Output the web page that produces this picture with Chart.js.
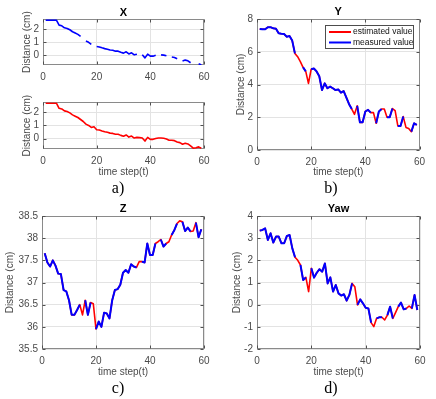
<!DOCTYPE html>
<html><head><meta charset="utf-8">
<script src="https://cdn.jsdelivr.net/npm/chart.js@4/dist/chart.umd.min.js"></script>
<style>
html,body{margin:0;padding:0;background:#fff;width:436px;height:399px;overflow:hidden;position:relative}
canvas{position:absolute}
.lbl{position:absolute;width:40px;text-align:center;font:16px 'Liberation Serif','Times New Roman',serif;line-height:16px;color:#000}
</style></head><body>
<canvas id="cA1" width="218" height="86" style="left:0;top:0"></canvas>
<canvas id="cA2" width="218" height="113" style="left:0;top:86px"></canvas>
<canvas id="cB" width="218" height="199" style="left:218px;top:0"></canvas>
<canvas id="cC" width="218" height="200" style="left:0;top:199px"></canvas>
<canvas id="cD" width="218" height="200" style="left:218px;top:199px"></canvas>
<div class="lbl" style="left:98px;top:180px">a)</div>
<div class="lbl" style="left:311px;top:180px">b)</div>
<div class="lbl" style="left:98px;top:380px">c)</div>
<div class="lbl" style="left:311px;top:380px">d)</div>
<script>
const timeSteps = [1,2,3,4,5,6,7,8,9,10,11,12,13,14,15,16,17,18,19,20,21,22,23,24,25,26,27,28,29,30,31,32,33,34,35,36,37,38,39,40,41,42,43,44,45,46,47,48,49,50,51,52,53,54,55,56,57,58,59];
const xAxisTicks = [0,20,40,60];

const xEstimated = [2.68,2.68,2.68,2.68,2.68,2.3,2.25,2.1,2.05,1.95,1.8,1.7,1.6,1.45,1.3,1.1,1.0,0.85,0.9,0.68,0.65,0.58,0.52,0.48,0.42,0.4,0.33,0.33,0.25,0.18,0.28,0.12,0.2,0.05,0.1,0.08,0.05,-0.18,0.1,-0.05,-0.05,0.02,0.05,0.05,0.03,-0.02,-0.12,-0.12,-0.15,-0.25,-0.3,-0.42,-0.35,-0.4,-0.55,-0.72,-0.68,-0.62,-0.72];
const xMeasured  = [2.68,2.68,2.68,2.68,2.68,2.3,2.25,2.1,2.05,1.95,1.8,1.7,1.6,1.45,null,1.1,1.0,0.85,null,0.68,0.65,0.58,0.52,0.48,0.42,0.4,0.33,0.33,0.25,0.18,0.28,0.12,0.2,0.05,0.1,null,0.05,-0.18,0.1,-0.05,-0.05,0.02,null,0.05,0.03,-0.02,null,-0.12,-0.15,-0.25,null,-0.42,-0.35,-0.4,-0.55,null,null,-0.62,-0.72];

const yEstimated = [7.39,7.37,7.37,7.5,7.5,7.43,7.41,7.13,7.1,7.08,6.92,6.96,6.68,5.9,5.7,5.4,5.05,4.8,4.07,4.93,4.98,4.8,4.5,3.66,4.07,3.77,3.87,3.77,3.66,3.7,3.5,3.6,3.2,2.8,2.5,2.18,2.7,1.69,1.69,2.35,2.45,2.28,2.28,1.63,2.35,2.5,2.5,2.0,2.0,2.53,2.4,1.47,1.47,2.04,1.38,1.32,1.12,1.63,1.53];
const yMeasured  = [7.39,7.37,7.37,7.5,7.5,7.43,7.41,7.13,7.1,7.08,6.92,6.96,6.68,5.9,null,null,5.05,4.8,null,4.93,4.98,4.8,4.5,3.66,4.07,3.77,3.87,3.77,3.66,3.7,3.5,3.6,3.2,2.8,2.5,null,2.7,1.69,1.69,2.35,2.45,2.28,null,1.63,2.35,2.5,null,2.0,2.0,2.53,null,1.47,1.47,2.04,null,null,1.12,1.63,1.53];

const zEstimated = [37.66,37.45,37.36,37.5,37.38,37.2,37.19,36.83,36.8,36.6,36.27,36.27,36.38,36.5,36.27,36.6,36.27,36.55,36.52,35.95,36.12,36.0,36.32,36.3,36.19,36.6,36.83,36.85,36.95,37.22,37.28,37.22,37.41,37.36,37.34,37.47,37.47,37.45,37.88,37.62,37.62,37.88,37.92,37.97,37.81,37.88,37.92,38.07,38.18,38.33,38.39,38.37,38.16,38.24,38.15,38.16,38.35,38.02,38.2];
const zMeasured  = [37.66,37.45,37.36,37.5,37.38,37.2,37.19,36.83,36.8,36.6,36.27,36.27,36.38,36.5,null,36.6,36.27,36.55,null,35.95,36.12,36.0,36.32,36.3,36.19,36.6,36.83,36.85,36.95,37.22,37.28,37.22,37.41,37.36,37.34,null,37.47,37.45,37.88,37.62,37.62,37.88,null,37.97,37.81,37.88,null,38.07,38.18,38.33,null,38.37,38.16,38.24,38.15,null,38.35,38.02,38.2];

const yawEstimated = [3.34,3.37,3.44,2.92,3.22,2.8,3.07,3.07,2.77,2.77,3.1,3.14,2.54,2.14,2.0,1.79,1.11,1.23,0.59,1.64,1.22,1.44,1.6,1.49,1.86,0.96,1.23,0.59,0.89,0.51,0.41,0.47,0.18,0.44,0.96,0.81,-0.01,0.24,0.06,-0.14,-0.17,-0.81,-0.99,-0.62,-0.57,-0.57,-0.69,-0.47,-0.09,-0.62,-0.36,-0.09,0.09,-0.21,-0.17,-0.06,-0.17,0.44,-0.24];
const yawMeasured  = [3.34,3.37,3.44,2.92,3.22,2.8,3.07,3.07,2.77,2.77,3.1,3.14,2.54,2.14,null,1.79,1.11,1.23,null,1.64,1.22,1.44,1.6,1.49,1.86,0.96,1.23,0.59,0.89,0.51,0.41,0.47,0.18,0.44,0.96,null,-0.01,0.24,0.06,-0.14,-0.17,-0.81,null,-0.62,-0.57,-0.57,null,-0.47,-0.09,-0.62,null,-0.09,0.09,-0.21,-0.17,null,-0.17,0.44,-0.24];

const xPanelTicks = [0,1,2];
const yPanelTicks = [0,2,4,6,8];
const zPanelTicks = [35.5,36,36.5,37,37.5,38,38.5];
const yawPanelTicks = [-2,-1,0,1,2,3,4];

const seriesLabels = ['estimated value','measured value'];
const panelTitles = ['X','Y','Z','Yaw'];
const yAxisTitle = 'Distance (cm)';
const xAxisTitle = 'time step(t)';

const RED = '#ff0000', BLUE = '#0000ff';
const SANS = "'Liberation Sans', Arial, Helvetica, sans-serif";
const TEXT_GRAY = '#4a4a4a';

function pts(vals){ return timeSteps.map((t,i)=>({x:t, y:vals[i]})); }

const framePlugin = {
  id:'frame',
  beforeDatasetsDraw(chart){
    const {ctx, chartArea:a, scales} = chart;
    ctx.save();
    ctx.strokeStyle = '#8a8a8a'; ctx.lineWidth = 1;
    const L=Math.round(a.left)+0.5, R=Math.round(a.right)-0.5, T=Math.round(a.top)+0.5, B=Math.round(a.bottom)-0.5;
    ctx.strokeRect(L,T,R-L,B-T);
    ctx.strokeStyle = '#505050';
    ctx.beginPath();
    scales.x.ticks.forEach(t=>{ const px=Math.round(scales.x.getPixelForValue(t.value))+0.5;
      ctx.moveTo(px,B); ctx.lineTo(px,B-3); ctx.moveTo(px,T); ctx.lineTo(px,T+3); });
    scales.y.ticks.forEach(t=>{ const py=Math.round(scales.y.getPixelForValue(t.value))+0.5;
      ctx.moveTo(L,py); ctx.lineTo(L+3,py); ctx.moveTo(R,py); ctx.lineTo(R-3,py); });
    ctx.stroke();
    ctx.restore();
  }
};

const boxLegend = {
  id:'boxLegend',
  afterDraw(chart, args, opts){
    if(!opts || !opts.show) return;
    const {ctx, chartArea:a} = chart;
    const w=88, h=23, x=a.right-6.5-w, y=a.top+6;
    ctx.save();
    ctx.fillStyle='#fff'; ctx.fillRect(x,y,w,h);
    ctx.strokeStyle='#4d4d4d'; ctx.lineWidth=1; ctx.strokeRect(Math.round(x)+0.5,Math.round(y)+0.5,w,h);
    const items = [{label:seriesLabels[0], color:RED},{label:seriesLabels[1], color:BLUE}];
    ctx.font = "8.5px " + SANS; ctx.textBaseline='middle'; ctx.textAlign='left';
    items.forEach((it,i)=>{
      const cy = y + 7 + i*10.5;
      ctx.strokeStyle = it.color; ctx.lineWidth = 2;
      ctx.beginPath(); ctx.moveTo(x+4,cy); ctx.lineTo(x+26,cy); ctx.stroke();
      ctx.fillStyle='#111'; ctx.fillText(it.label, x+28, cy);
    });
    ctx.restore();
  }
};

function makeChart(id, c){
  const tickFont = {family:SANS, size:10};
  return new Chart(document.getElementById(id), {
    type:'line',
    data:{datasets:c.datasets},
    plugins:[framePlugin, boxLegend],
    options:{
      responsive:false, animation:false, events:[],
      layout:{padding:{top:c.padTop||0, right:c.padRight, bottom:c.padBottom||0, left:0}},
      elements:{point:{radius:0}, line:{tension:0, borderCapStyle:'butt', borderJoinStyle:'round'}},
      plugins:{
        legend:{display:false}, tooltip:{enabled:false},
        title:{display:!!c.title, text:c.title, fullSize:false, color:'#000',
          font:{family:SANS, size:11, weight:'bold'}, padding:c.titlePad||{top:0,bottom:0}},
        boxLegend:{show:!!c.legend}
      },
      scales:{
        x:{type:'linear', min:0, max:60,
          afterBuildTicks:s=>{ s.ticks = xAxisTicks.map(v=>({value:v})); },
          afterFit:s=>{ s.height = c.xHeight; },
          grid:{color:'#e3e3e3', drawTicks:false}, border:{display:false},
          ticks:{font:tickFont, color:TEXT_GRAY, padding:6, maxRotation:0, autoSkip:false},
          title:{display:!!c.xTitle, text:xAxisTitle, color:TEXT_GRAY, font:{family:SANS,size:10}, padding:{top:0,bottom:c.xTitlePad||0}}
        },
        y:{type:'linear', min:c.yMin, max:c.yMax,
          afterBuildTicks:s=>{ s.ticks = c.yTicks.map(v=>({value:v})); },
          afterFit:s=>{ s.width = c.yWidth; },
          grid:{color:'#e3e3e3', drawTicks:false}, border:{display:false},
          ticks:{font:tickFont, color:TEXT_GRAY, padding:4, autoSkip:false, callback:v=>String(v)},
          title:{display:true, text:yAxisTitle, color:TEXT_GRAY, font:{family:SANS,size:10}, padding:{top:c.yTitlePad,bottom:0}}
        }
      }
    }
  });
}

function measuredDs(vals, w){ return {label:seriesLabels[1], data:pts(vals), borderColor:BLUE, borderWidth:w, spanGaps:false, fill:false}; }
function estimatedDs(vals, w){ return {label:seriesLabels[0], data:pts(vals), borderColor:RED, borderWidth:w, spanGaps:false, fill:false}; }

makeChart('cA1', {datasets:[measuredDs(xMeasured,1.6)], title:panelTitles[0], titlePad:{top:6,bottom:0},
  padRight:14, yWidth:43, xHeight:21, yMin:-0.72, yMax:2.75, yTicks:xPanelTicks, yTitlePad:21});
makeChart('cA2', {datasets:[estimatedDs(xEstimated,1.6)], padTop:16.3, padBottom:20,
  padRight:14, yWidth:43, xHeight:30, xTitle:true, xTitlePad:0.3, yMin:-0.78, yMax:2.75, yTicks:xPanelTicks, yTitlePad:21});
makeChart('cB', {datasets:[measuredDs(yMeasured,2.0), estimatedDs(yEstimated,1.6)], title:panelTitles[1], titlePad:{top:5,bottom:0.8},
  padRight:16.5, padBottom:20, yWidth:39, xHeight:29, xTitle:true, xTitlePad:0.3, yMin:0, yMax:8, yTicks:yPanelTicks, yTitlePad:17, legend:true});
makeChart('cC', {datasets:[measuredDs(zMeasured,2.0), estimatedDs(zEstimated,1.6)], title:panelTitles[2], titlePad:{top:3,bottom:0.8},
  padRight:14, padBottom:20, yWidth:42, xHeight:30, xTitle:true, xTitlePad:1, yMin:35.5, yMax:38.5, yTicks:zPanelTicks, yTitlePad:4});
makeChart('cD', {datasets:[measuredDs(yawMeasured,2.0), estimatedDs(yawEstimated,1.6)], title:panelTitles[3], titlePad:{top:3,bottom:0.8},
  padRight:16, padBottom:20, yWidth:39, xHeight:30, xTitle:true, xTitlePad:1, yMin:-2, yMax:4, yTicks:yawPanelTicks, yTitlePad:12.8});
</script>
</body></html>
